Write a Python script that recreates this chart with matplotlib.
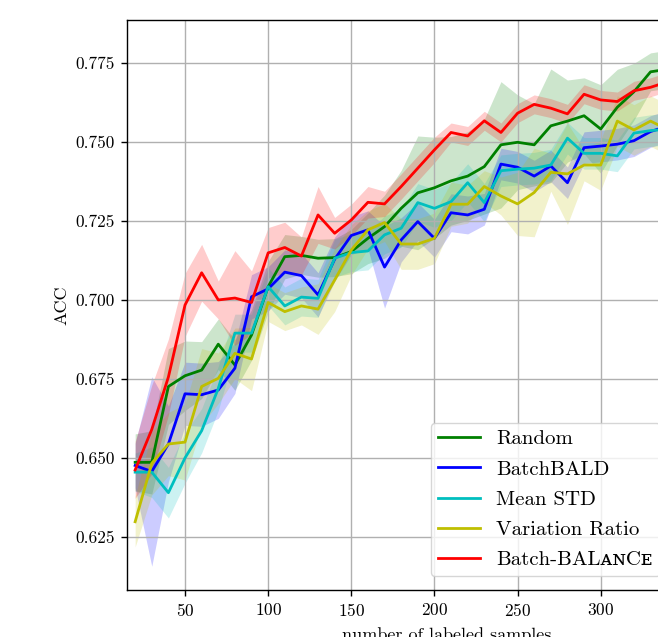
import numpy as np
import matplotlib
matplotlib.use('Agg')
import matplotlib.pyplot as plt

plt.rcParams['font.family'] = ['cmr10', 'DejaVu Serif']
plt.rcParams['mathtext.fontset'] = 'cm'
plt.rcParams['axes.formatter.use_mathtext'] = True

# number of labeled samples
n_labeled = list(range(20, 350, 10))

acc_random = [0.6486, 0.6486, 0.6726, 0.6760, 0.6778, 0.6860, 0.6794, 0.6889,
              0.7042, 0.7137, 0.7141, 0.7132, 0.7134, 0.7153, 0.7195, 0.7232,
              0.7290, 0.7339, 0.7355, 0.7377, 0.7392, 0.7422, 0.7491, 0.7499,
              0.7491, 0.7551, 0.7566, 0.7583, 0.7541, 0.7610, 0.7659, 0.7722,
              0.7730]
std_random = [0.009, 0.010, 0.012, 0.011, 0.009, 0.008, 0.008, 0.008,
              0.008, 0.007, 0.006, 0.006, 0.006, 0.007, 0.008, 0.010,
              0.012, 0.018, 0.016, 0.014, 0.014, 0.015, 0.020, 0.015,
              0.013, 0.018, 0.013, 0.012, 0.014, 0.012, 0.009, 0.006,
              0.006]

acc_batchbald = [0.6476, 0.6457, 0.6544, 0.6703, 0.6700, 0.6715, 0.6784, 0.7010,
                 0.7035, 0.7088, 0.7077, 0.7016, 0.7129, 0.7204, 0.7222, 0.7104,
                 0.7190, 0.7248, 0.7195, 0.7276, 0.7269, 0.7287, 0.7430, 0.7420,
                 0.7392, 0.7424, 0.7371, 0.7482, 0.7487, 0.7493, 0.7504, 0.7533,
                 0.7550]
std_batchbald = [0.007, 0.030, 0.012, 0.010, 0.010, 0.009, 0.008, 0.007,
                 0.007, 0.007, 0.007, 0.007, 0.007, 0.006, 0.006, 0.013,
                 0.007, 0.006, 0.006, 0.006, 0.006, 0.005, 0.005, 0.005,
                 0.005, 0.005, 0.005, 0.005, 0.005, 0.005, 0.005, 0.005,
                 0.005]

acc_meanstd = [0.6455, 0.6455, 0.6390, 0.6500, 0.6586, 0.6720, 0.6895, 0.6895,
               0.7042, 0.6981, 0.7009, 0.7005, 0.7132, 0.7150, 0.7155, 0.7206,
               0.7227, 0.7308, 0.7290, 0.7311, 0.7371, 0.7308, 0.7409, 0.7414,
               0.7417, 0.7427, 0.7512, 0.7464, 0.7464, 0.7456, 0.7528, 0.7536,
               0.7540]
std_meanstd = [0.006, 0.008, 0.008, 0.008, 0.007, 0.007, 0.006, 0.006,
               0.006, 0.006, 0.006, 0.006, 0.006, 0.006, 0.006, 0.006,
               0.006, 0.006, 0.006, 0.006, 0.006, 0.006, 0.005, 0.005,
               0.005, 0.005, 0.005, 0.005, 0.005, 0.005, 0.005, 0.005,
               0.005]

acc_varratio = [0.6298, 0.6483, 0.6544, 0.6550, 0.6726, 0.6752, 0.6831, 0.6813,
                0.6992, 0.6963, 0.6981, 0.6971, 0.7063, 0.7158, 0.7222, 0.7245,
                0.7177, 0.7177, 0.7195, 0.7303, 0.7303, 0.7359, 0.7329, 0.7304,
                0.7340, 0.7404, 0.7399, 0.7427, 0.7427, 0.7566, 0.7538, 0.7566,
                0.7540]
std_varratio = [0.008, 0.010, 0.010, 0.012, 0.012, 0.008, 0.008, 0.010,
                0.006, 0.006, 0.006, 0.008, 0.010, 0.008, 0.006, 0.006,
                0.008, 0.008, 0.008, 0.007, 0.006, 0.005, 0.006, 0.010,
                0.014, 0.006, 0.016, 0.005, 0.008, 0.008, 0.008, 0.008,
                0.008]

acc_balance = [0.6462, 0.6590, 0.6756, 0.6984, 0.7086, 0.7000, 0.7006, 0.6992,
               0.7149, 0.7166, 0.7139, 0.7269, 0.7211, 0.7253, 0.7309, 0.7304,
               0.7359, 0.7417, 0.7475, 0.7530, 0.7519, 0.7567, 0.7530, 0.7591,
               0.7619, 0.7607, 0.7589, 0.7651, 0.7633, 0.7628, 0.7662, 0.7673,
               0.7690]
std_balance = [0.009, 0.014, 0.012, 0.010, 0.009, 0.006, 0.015, 0.010,
               0.008, 0.008, 0.006, 0.009, 0.005, 0.005, 0.005, 0.004,
               0.004, 0.004, 0.004, 0.003, 0.003, 0.003, 0.003, 0.003,
               0.003, 0.003, 0.003, 0.003, 0.003, 0.003, 0.003, 0.003,
               0.003]

series = [
    ('Random', acc_random, std_random, 'g'),
    ('BatchBALD', acc_batchbald, std_batchbald, 'b'),
    ('Mean STD', acc_meanstd, std_meanstd, 'c'),
    ('Variation Ratio', acc_varratio, std_varratio, 'y'),
    ('Batch-BAL\u1d00\u0274C\u1d07', acc_balance, std_balance, 'r'),
]

fig = plt.figure(figsize=(6.58, 6.37), dpi=100)
# the axes runs past the right edge, the figure is cut there
ax = fig.add_axes([0.193, 0.0738, 0.9726, 0.8948])

x = np.array(n_labeled)
for name, mean, std, col in series:
    mean = np.array(mean)
    std = np.array(std)
    ax.plot(x, mean, color=col, lw=2.0, label=name)
    ax.fill_between(x, mean - std, mean + std, color=col, alpha=0.2, lw=0)

ax.set_xlim(15.1, 400)
ax.set_ylim(0.6082, 0.7886)
ax.set_xticks([50, 100, 150, 200, 250, 300, 350])
ax.set_yticks([0.625, 0.65, 0.675, 0.7, 0.725, 0.75, 0.775])
ax.yaxis.set_major_formatter(matplotlib.ticker.FormatStrFormatter('%.3f'))
ax.tick_params(labelsize=12.5, length=4, width=1.0, pad=5)
for sp in ax.spines.values():
    sp.set_linewidth(1.0)
ax.grid(color='#b0b0b0', lw=1.0)
ax.set_xlabel('number of labeled samples', fontsize=13, labelpad=5.5)
ax.set_ylabel('ACC', fontsize=13)
ax.legend(loc='upper left', bbox_to_anchor=(0.475, 0.293), borderaxespad=0,
          fontsize=15, labelspacing=0.56, borderpad=0.33)

fig.savefig('out.png', dpi=100)
